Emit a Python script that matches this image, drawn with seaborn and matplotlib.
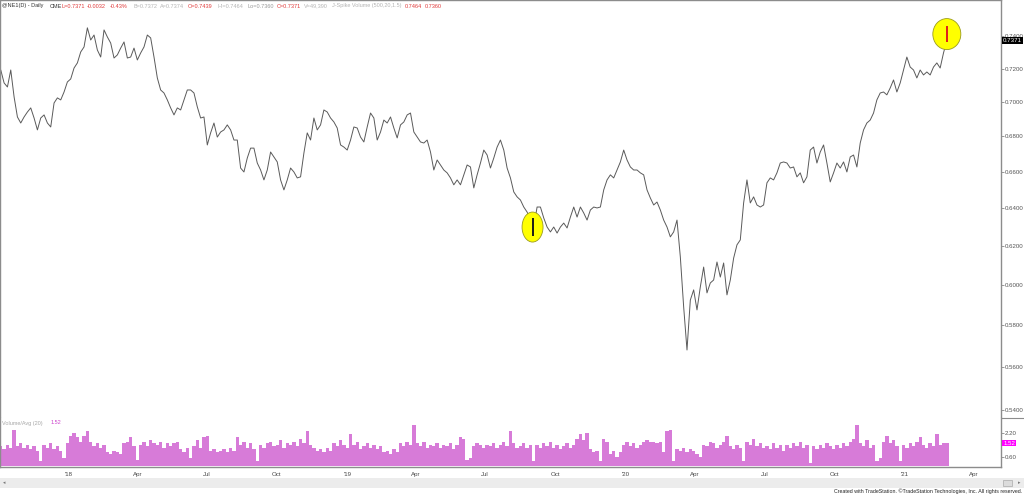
import pandas as pd
import matplotlib
matplotlib.use('Agg')
import matplotlib.pyplot as plt
import matplotlib.dates as mdates
import matplotlib.transforms as mtransforms
from matplotlib.patches import Ellipse, Rectangle
from matplotlib.lines import Line2D
from matplotlib.ticker import FixedLocator, NullLocator, FuncFormatter
import seaborn as sns

# --- data (evenly spaced samples, first bar to last bar) ---
first_bar = '2017-10-04'
last_bar = '2021-02-25'

close_q4_2017_h1_2018 = [
    0.7191, 0.7113, 0.7089, 0.7191, 0.7030, 0.6912, 0.6877, 0.6912, 0.6941, 0.6965,
    0.6906, 0.6837, 0.6906, 0.6924, 0.6877, 0.6854, 0.6994, 0.7024, 0.7012, 0.7059,
    0.7119, 0.7137, 0.7203, 0.7234, 0.7301, 0.7332, 0.7451, 0.7375, 0.7406, 0.7313,
    0.7270, 0.7438, 0.7394, 0.7356, 0.7264, 0.7283, 0.7325, 0.7363, 0.7264, 0.7270,
    0.7325, 0.7252, 0.7295, 0.7332, 0.7406, 0.7388, 0.7270, 0.7143, 0.7071, 0.7053,
    0.7012, 0.6965, 0.6924, 0.6965, 0.6953, 0.7012, 0.7071, 0.7071, 0.7053, 0.6971,
]
close_h2_2018_h1_2019 = [
    0.6906, 0.6912, 0.6751, 0.6820, 0.6877, 0.6796, 0.6825, 0.6837, 0.6866, 0.6837,
    0.6779, 0.6779, 0.6621, 0.6599, 0.6677, 0.6733, 0.6733, 0.6649, 0.6610, 0.6555,
    0.6610, 0.6711, 0.6683, 0.6655, 0.6555, 0.6500, 0.6555, 0.6621, 0.6599, 0.6566,
    0.6572, 0.6705, 0.6820, 0.6779, 0.6906, 0.6837, 0.6866, 0.6953, 0.6941, 0.6906,
    0.6883, 0.6848, 0.6751, 0.6739, 0.6722, 0.6779, 0.6854, 0.6848, 0.6796, 0.6768,
    0.6854, 0.6935, 0.6906, 0.6779, 0.6825, 0.6894, 0.6877, 0.6912, 0.6848, 0.6791,
]
close_h1_2019_q4_2019 = [
    0.6866, 0.6883, 0.6924, 0.6935, 0.6825, 0.6796, 0.6768, 0.6762, 0.6779, 0.6711,
    0.6610, 0.6666, 0.6638, 0.6610, 0.6594, 0.6566, 0.6528, 0.6555, 0.6528, 0.6583,
    0.6638, 0.6627, 0.6511, 0.6583, 0.6649, 0.6722, 0.6694, 0.6621, 0.6677, 0.6739,
    0.6779, 0.6722, 0.6621, 0.6566, 0.6489, 0.6462, 0.6445, 0.6407, 0.6380, 0.6337,
    0.6300, 0.6407, 0.6407, 0.6348, 0.6300, 0.6274, 0.6300, 0.6268, 0.6300, 0.6321,
    0.6295, 0.6353, 0.6407, 0.6353, 0.6407, 0.6375, 0.6337, 0.6391, 0.6407, 0.6402,
]
close_q4_2019_q3_2020 = [
    0.6407, 0.6500, 0.6555, 0.6583, 0.6566, 0.6610, 0.6655, 0.6722, 0.6666, 0.6627,
    0.6610, 0.6610, 0.6594, 0.6583, 0.6500, 0.6456, 0.6418, 0.6434, 0.6391, 0.6337,
    0.6300, 0.6248, 0.6274, 0.6337, 0.6143, 0.5890, 0.5680, 0.5924, 0.5975, 0.5875,
    0.5990, 0.6091, 0.5960, 0.6010, 0.6025, 0.6117, 0.6040, 0.6112, 0.5950, 0.6025,
    0.6137, 0.6206, 0.6232, 0.6429, 0.6555, 0.6429, 0.6462, 0.6418, 0.6407, 0.6418,
    0.6539, 0.6566, 0.6555, 0.6594, 0.6649, 0.6655, 0.6649, 0.6621,
]
close_q3_2020_q1_2021 = [
    0.6627, 0.6572, 0.6594, 0.6539, 0.6572, 0.6722, 0.6739, 0.6649, 0.6711, 0.6751,
    0.6649, 0.6544, 0.6594, 0.6649, 0.6621, 0.6655, 0.6599, 0.6683, 0.6694, 0.6627,
    0.6762, 0.6837, 0.6877, 0.6894, 0.6935, 0.7012, 0.7053, 0.7059, 0.7042, 0.7083,
    0.7131, 0.7059, 0.7113, 0.7191, 0.7270, 0.7209, 0.7191, 0.7143, 0.7191, 0.7161,
    0.7179, 0.7161, 0.7209, 0.7234, 0.7203, 0.7295, 0.7371,
]

vol_ratio_a = [
    1.3, 1.1, 1.4, 1.2, 2.4, 1.3, 1.5, 1.2, 1.4, 1.1, 1.3, 1.0, 0.3, 1.4, 1.2, 1.5,
    1.1, 1.3, 1.0, 0.5, 1.5, 2.0, 2.2, 1.9, 1.6, 2.0, 2.3, 1.6, 1.3, 1.5, 1.2, 1.4,
    0.9, 0.8, 1.0, 0.9, 0.8, 1.5, 1.6, 1.9, 1.3, 0.4, 1.4, 1.6, 1.3, 1.7, 1.5, 1.4,
    1.6, 1.2, 1.5, 1.3, 1.5, 1.6, 1.1, 0.9, 1.2, 0.5, 1.3, 1.7, 1.2, 1.9, 2.0, 1.0,
    1.1, 0.9, 1.0, 1.1, 0.9, 1.2, 1.0, 1.9, 1.4, 1.6, 1.2, 1.5, 1.1, 0.3, 1.4, 1.2,
    1.5, 1.6, 1.3, 1.4, 1.7, 1.2, 1.5, 1.4, 1.6, 1.3, 1.8, 1.5, 2.3, 1.4, 1.2, 1.0,
    1.1, 0.9, 1.2, 1.0, 1.5, 1.3, 1.7, 1.4, 1.2, 2.1, 1.4, 1.6, 1.1, 1.3, 1.5, 1.2,
    1.4, 1.1, 1.3, 0.9, 1.0, 0.8, 1.1, 0.9, 1.5, 1.3, 1.6, 1.4, 2.7, 1.5, 1.3, 1.6,
    1.2, 1.4, 1.3, 1.5, 1.2, 1.4, 1.3, 1.5, 1.1, 1.4, 1.9, 1.8, 0.4, 0.5, 1.3, 1.5,
    1.4, 1.2, 1.4, 1.3, 1.5, 1.2, 1.4, 1.6, 1.3, 2.3, 1.5, 1.2,
]
vol_ratio_b = [
    1.3, 1.5, 1.2, 1.4, 0.3, 1.4, 1.2, 1.5, 1.3, 1.6, 1.2, 1.4, 1.1, 1.3, 1.5, 1.2,
    1.4, 1.8, 2.1, 1.7, 2.2, 1.1, 0.9, 1.0, 0.3, 1.8, 1.6, 0.8, 1.0, 0.6, 0.9, 1.4,
    1.6, 1.3, 1.5, 1.2, 1.4, 1.6, 1.7, 1.6, 1.6, 1.5, 1.6, 0.9, 2.3, 2.4, 0.3, 1.1,
    1.0, 1.2, 0.9, 1.1, 1.0, 0.8, 0.6, 1.4, 1.3, 1.6, 1.5, 1.2, 1.4, 1.6, 2.0, 1.3,
    1.1, 1.4, 1.2, 0.3, 1.6, 1.4, 1.8, 1.3, 1.5, 1.2, 1.3, 1.1, 1.5, 1.2, 1.4, 1.0,
    1.4, 1.2, 1.5, 1.3, 1.6, 1.2, 1.4, 0.2, 1.3, 1.1, 1.4, 1.2, 1.5, 1.3, 1.1, 1.4,
    1.2, 1.5, 1.3, 1.6, 1.8, 2.7, 1.5, 1.3, 1.7, 1.2, 1.4, 0.3, 0.5, 1.6, 2.0, 1.5,
    1.7, 1.3, 0.3, 1.4, 1.2, 1.5, 1.3, 1.6, 1.9, 1.4, 1.2, 1.5, 1.3, 2.1, 1.4, 1.5,
    1.52,
]

price_ticks = [0.54, 0.56, 0.58, 0.60, 0.62, 0.64, 0.66, 0.68, 0.70, 0.72, 0.74]
vol_ticks = [0.60, 2.20]
x_tick_labels = ["'18", 'Apr', 'Jul', 'Oct', "'19", 'Apr', 'Jul', 'Oct',
                 "'20", 'Apr', 'Jul', 'Oct', "'21", 'Apr']

# highlighted bars (circled in yellow)
hl_dates = ['2019-09-01', '2021-02-25']
hl_high = [0.6350, 0.7464]
hl_low = [0.6250, 0.7360]
hl_colors = ['#1a1a1a', '#e01b1b']
hl_size_px = [(21, 30), (28, 31)]

last_close = 0.7371
last_vol = 1.52

closes = (close_q4_2017_h1_2018 + close_h2_2018_h1_2019 + close_h1_2019_q4_2019
          + close_q4_2019_q3_2020 + close_q3_2020_q1_2021)
vol_ratio = vol_ratio_a + vol_ratio_b
dates = pd.date_range(first_bar, last_bar, periods=len(closes))
df = pd.DataFrame({'date': dates, 'close': closes, 'vol': vol_ratio})

# --- figure ---
sns.set_theme(style='white')
plt.rcParams['font.family'] = ['Liberation Sans', 'DejaVu Sans']

W, H = 1024, 495
fig = plt.figure(figsize=(W / 100, H / 100), dpi=100)


def fx(px):
    return px / W


def fy(py):
    return 1 - py / H


ax = fig.add_axes([0, fy(418), fx(1001), fy(0) - fy(418)])
axv = fig.add_axes([0, fy(467), fx(1001), fy(418) - fy(467)], sharex=ax)

# price line
sns.lineplot(data=df, x='date', y='close', ax=ax, color='#5a5a5a', linewidth=0.7)
ax.set_yscale('log')
ax.set_ylim(0.53637, 0.76278)
ax.set_xlim(pd.Timestamp('2017-10-03'), pd.Timestamp('2021-05-07'))
ax.yaxis.set_major_locator(FixedLocator(price_ticks))
ax.yaxis.set_minor_locator(NullLocator())
ax.yaxis.set_major_formatter(FuncFormatter(lambda v, p: f'{v:.4f}'))
ax.yaxis.tick_right()
ax.tick_params(axis='y', which='both', direction='out', length=2, width=0.6, pad=1,
               labelsize=4.4, labelcolor='#555555', color='#888888')
ax.tick_params(axis='x', which='both', bottom=False, labelbottom=False)
ax.set_xlabel('')
ax.set_ylabel('')
for side in ['top', 'left', 'right']:
    ax.spines[side].set_color('#8c8c8c')
    ax.spines[side].set_linewidth(1.0)
ax.spines['bottom'].set_visible(False)

# yellow circles and highlighted bars
for d, hi, lo, c, (w, h) in zip(hl_dates, hl_high, hl_low, hl_colors, hl_size_px):
    xnum = mdates.date2num(pd.Timestamp(d))
    mid = (hi * lo) ** 0.5
    trans = fig.dpi_scale_trans + mtransforms.ScaledTranslation(xnum, mid, ax.transData)
    ax.add_patch(Ellipse((0, 0), w / 100, h / 100, transform=trans, facecolor='#ffff00',
                         edgecolor='#9a9a20', linewidth=0.6, zorder=3))
    ax.vlines(pd.Timestamp(d), lo, hi, color=c, linewidth=1.4, zorder=4)

ax.annotate(f'{last_close:.4f}', xy=(1, last_close), xycoords=('axes fraction', 'data'),
            xytext=(1.5, 0), textcoords='offset points', ha='left', va='center',
            fontsize=4.4, color='white', annotation_clip=False,
            bbox=dict(boxstyle='square,pad=0.12', fc='black', ec='none'))

# volume / average panel
axv.bar(mdates.date2num(df['date']), df['vol'], width=(dates[1] - dates[0]).days + 0.4,
        color='#d77bd8', linewidth=0, align='center')
axv.set_ylim(-0.067, 3.2)
axv.yaxis.set_major_locator(FixedLocator(vol_ticks))
axv.yaxis.set_minor_locator(NullLocator())
axv.yaxis.set_major_formatter(FuncFormatter(lambda v, p: f'{v:.2f}'))
axv.yaxis.tick_right()
axv.tick_params(axis='y', which='both', direction='out', length=2, width=0.6, pad=1,
                labelsize=4.4, labelcolor='#555555', color='#888888')
axv.set_xticks(pd.date_range('2018-01-01', periods=len(x_tick_labels), freq='QS'))
axv.set_xticklabels(x_tick_labels)
axv.xaxis.set_minor_locator(mdates.MonthLocator())
axv.tick_params(axis='x', which='both', direction='out', length=2, width=0.6, pad=1.5,
                labelsize=4.4, labelcolor='#444444', color='#888888')
for side in ['bottom', 'left', 'right']:
    axv.spines[side].set_color('#8c8c8c')
    axv.spines[side].set_linewidth(1.0)
axv.spines['top'].set_visible(False)
axv.set_xlim(pd.Timestamp('2017-10-03'), pd.Timestamp('2021-05-07'))

axv.annotate(f'{last_vol:.2f}', xy=(1, last_vol), xycoords=('axes fraction', 'data'),
             xytext=(1.5, 0), textcoords='offset points', ha='left', va='center',
             fontsize=4.4, color='white', annotation_clip=False,
             bbox=dict(boxstyle='square,pad=0.12', fc='#ff00ff', ec='none'))

fig.add_artist(Line2D([fx(1001), 1], [fy(418), fy(418)], color='#8c8c8c', lw=0.8))

# header line
red, light, dark = '#e03a3a', '#b4b4b4', '#333333'
header = [("@NE1(D) - Daily", dark, 2), ('CME', dark, 50), ('L=0.7371', red, 61),
          ('-0.0032', red, 87), ('-0.43%', red, 110), ('B=0.7372', light, 133),
          ('A=0.7374', light, 160), ('O=0.7439', red, 188), ('Hi=0.7464', light, 217),
          ('Lo=0.7360', '#9a9a9a', 247), ('C=0.7371', red, 277), ('V=49,390', light, 304),
          ('J-Spike Volume (500,20,1.5)', light, 332), ('0.7464', red, 405), ('0.7360', red, 425)]
for txt, col, px in header:
    fig.text(fx(px), fy(6), txt, color=col, fontsize=4.0, ha='left', va='center')

fig.text(fx(2), fy(423), 'Volume/Avg (20)', color='#a8a8a8', fontsize=4.0, ha='left', va='center')
fig.text(fx(51), fy(423), f'{last_vol:.2f}', color='#cc44cc', fontsize=4.0, ha='left', va='center')

# scroll bar and credits
fig.add_artist(Rectangle((0, fy(488)), 1, fy(478) - fy(488), transform=fig.transFigure,
                         facecolor='#ececec', edgecolor='none', zorder=0))
fig.add_artist(Rectangle((fx(1003), fy(486)), fx(9), fy(480) - fy(486), transform=fig.transFigure,
                         facecolor='#dcdcdc', edgecolor='#aaaaaa', linewidth=0.5))
fig.text(fx(3), fy(483), '\u25c2', color='#777777', fontsize=3.5, ha='left', va='center',
         family='DejaVu Sans')
fig.text(fx(1018), fy(483), '\u25b8', color='#777777', fontsize=3.5, ha='left', va='center',
         family='DejaVu Sans')
fig.text(fx(1022), fy(491), 'Created with TradeStation. \u00a9TradeStation Technologies, Inc. All rights reserved.',
         color='#222222', fontsize=3.8, ha='right', va='center')

fig.savefig('out.png', dpi=100)
plt.close(fig)
